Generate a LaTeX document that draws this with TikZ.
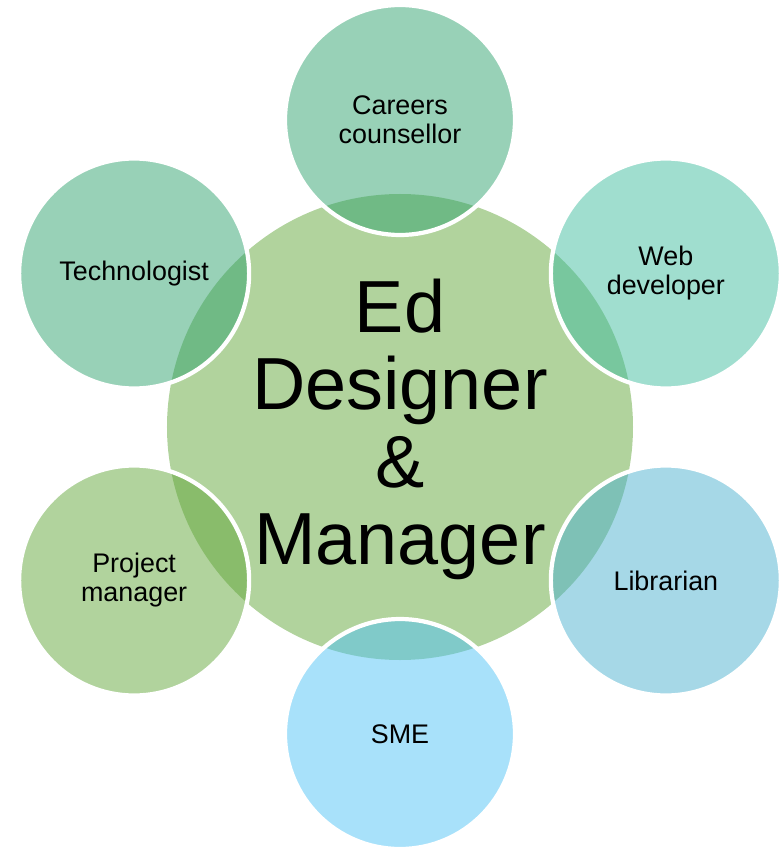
\documentclass[tikz,border=0pt]{standalone}
\usepackage{fontspec}
\setmainfont{Liberation Sans}
\usepackage{xcolor}
\usepackage{tikz}

\definecolor{hubgreen}{HTML}{B1D39D}
\definecolor{careerteal}{HTML}{31A36F}
\definecolor{webteal}{HTML}{41BD9F}
\definecolor{libblue}{HTML}{4DB1CF}
\definecolor{smeblue}{HTML}{51C3F5}
\definecolor{pmgreen}{HTML}{63A73B}

\tikzset{
	hub/.style={circle, fill=hubgreen, minimum size=9.32cm, inner sep=0pt, align=center,
		font=\fontsize{42}{44}\selectfont},
	role/.style={circle, fill=#1, fill opacity=0.5, text opacity=1, draw=white, draw opacity=1,
		line width=2.4pt, minimum size=4.6cm, inner sep=0pt, align=center,
		font=\fontsize{15.3}{16.5}\selectfont}
}

\begin{document}
\begin{tikzpicture}
	 \useasboundingbox (-8,-8.4) rectangle (7.64,8.54);
	 \node[hub] (designer) at (0,0) {};
	 \node[align=center, font=\fontsize{42}{44}\selectfont] (title) at (0,-0.05) {Ed\\Designer\\\&\\Manager};
	 \node[role=careerteal] (careers) at (90:6.14) {Careers\\counsellor};
	 \node[role=webteal] (web) at (30:6.14) {Web\\developer};
	 \node[role=libblue] (librarian) at (-30:6.14) {Librarian};
	 \node[role=smeblue] (sme) at (-90:6.14) {SME};
	 \node[role=pmgreen] (project) at (210:6.14) {Project\\manager};
	 \node[role=careerteal] (techno) at (150:6.14) {Technologist};
\end{tikzpicture}
\end{document}
